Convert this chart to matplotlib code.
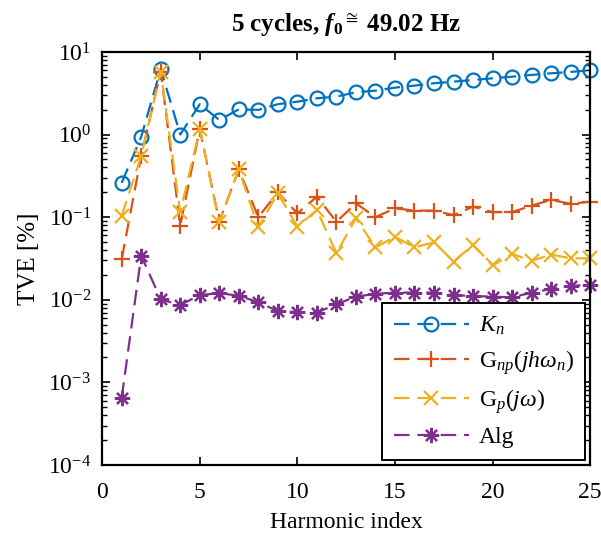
import numpy as np
import matplotlib
matplotlib.use("Agg")
import matplotlib.pyplot as plt

plt.rcParams['font.family'] = ['Liberation Serif', 'DejaVu Serif']
plt.rcParams['mathtext.fontset'] = 'custom'
plt.rcParams['mathtext.rm'] = 'Liberation Serif'
plt.rcParams['mathtext.it'] = 'Liberation Serif:italic'
plt.rcParams['mathtext.bf'] = 'Liberation Serif:bold'
plt.rcParams['mathtext.bfit'] = 'Liberation Serif:bold:italic'

# harmonic index
harmonics = list(range(1, 26))

# TVE [%] per method
tve_kn = [0.26, 0.94, 6.2, 1.0, 2.33, 1.50, 2.02, 1.99, 2.33, 2.50,
          2.75, 2.88, 3.25, 3.40, 3.70, 3.91, 4.18, 4.37, 4.58, 4.80,
          5.02, 5.27, 5.52, 5.73, 6.0]
tve_gnp = [0.031, 0.55, 5.8, 0.079, 1.17, 0.088, 0.38, 0.10, 0.20, 0.111,
           0.177, 0.088, 0.147, 0.10, 0.128, 0.12, 0.12, 0.106, 0.134, 0.115,
           0.115, 0.138, 0.162, 0.145, 0.154]
tve_gp = [0.104, 0.55, 5.8, 0.115, 1.17, 0.088, 0.38, 0.075, 0.195, 0.077,
          0.122, 0.0366, 0.097, 0.043, 0.058, 0.043, 0.0497, 0.029, 0.046, 0.026,
          0.0358, 0.0297, 0.0352, 0.0318, 0.0318]
tve_alg = [0.00065, 0.0342, 0.0101, 0.00865, 0.0114, 0.012, 0.0112, 0.0093, 0.0073, 0.0071,
           0.0070, 0.0088, 0.0109, 0.0118, 0.0122, 0.0122, 0.0122, 0.0114, 0.0111, 0.0109,
           0.0107, 0.0122, 0.0135, 0.0147, 0.0152]

labels = [r'$K_n$', r'$\mathrm{G}_{np}(jh\omega_n)$', r'$\mathrm{G}_p(j\omega)$', 'Alg']
colors = ['#0072BD', '#D95319', '#EDB120', '#7E2F8E']
markers = ['o', '+', 'x', (8, 2, 0)]
msizes = [10, 12, 10, 11]

fig = plt.figure(figsize=(6.01, 5.47), dpi=100)
ax = fig.add_axes([0.170, 0.150, 0.812, 0.755])

dash = (0, (7, 3.5))
for data, lab, c, m, ms in zip([tve_kn, tve_gnp, tve_gp, tve_alg], labels, colors, markers, msizes):
    ax.plot(harmonics, data, linestyle=dash, color=c, marker=m, markersize=ms,
            markerfacecolor='none', markeredgewidth=1.6, linewidth=1.6,
            label=lab, clip_on=False)

ax.set_yscale('log')
ax.set_xlim(0, 25)
ax.set_ylim(1e-4, 1e1)
ax.set_xticks([0, 5, 10, 15, 20, 25])
ax.tick_params(which='both', direction='in', top=True, right=True, labelsize=17)
ax.tick_params(axis='x', pad=12)
ax.tick_params(axis='y', pad=8)
ax.tick_params(which='major', length=6, width=1.2)
ax.tick_params(which='minor', length=3.5, width=1.0)
for s in ax.spines.values():
    s.set_linewidth(1.6)

ax.set_xlabel('Harmonic index', fontsize=17, labelpad=7)
ax.set_ylabel('TVE [%]', fontsize=18, labelpad=6)
ax.set_title(r'5 cycles, $\mathbfit{f}_{\mathbf{0}}$$^{\cong}$ 49.02 Hz', fontsize=18,
             fontweight='bold', pad=15)

leg = ax.legend(loc='lower right', bbox_to_anchor=(0.99, 0.012), fontsize=17,
                handlelength=3.2, handletextpad=0.4, fancybox=False, framealpha=1,
                edgecolor='black', borderpad=0.5, labelspacing=0.45, borderaxespad=0)
leg.get_frame().set_linewidth(1.4)

fig.savefig('out.png', dpi=100)
